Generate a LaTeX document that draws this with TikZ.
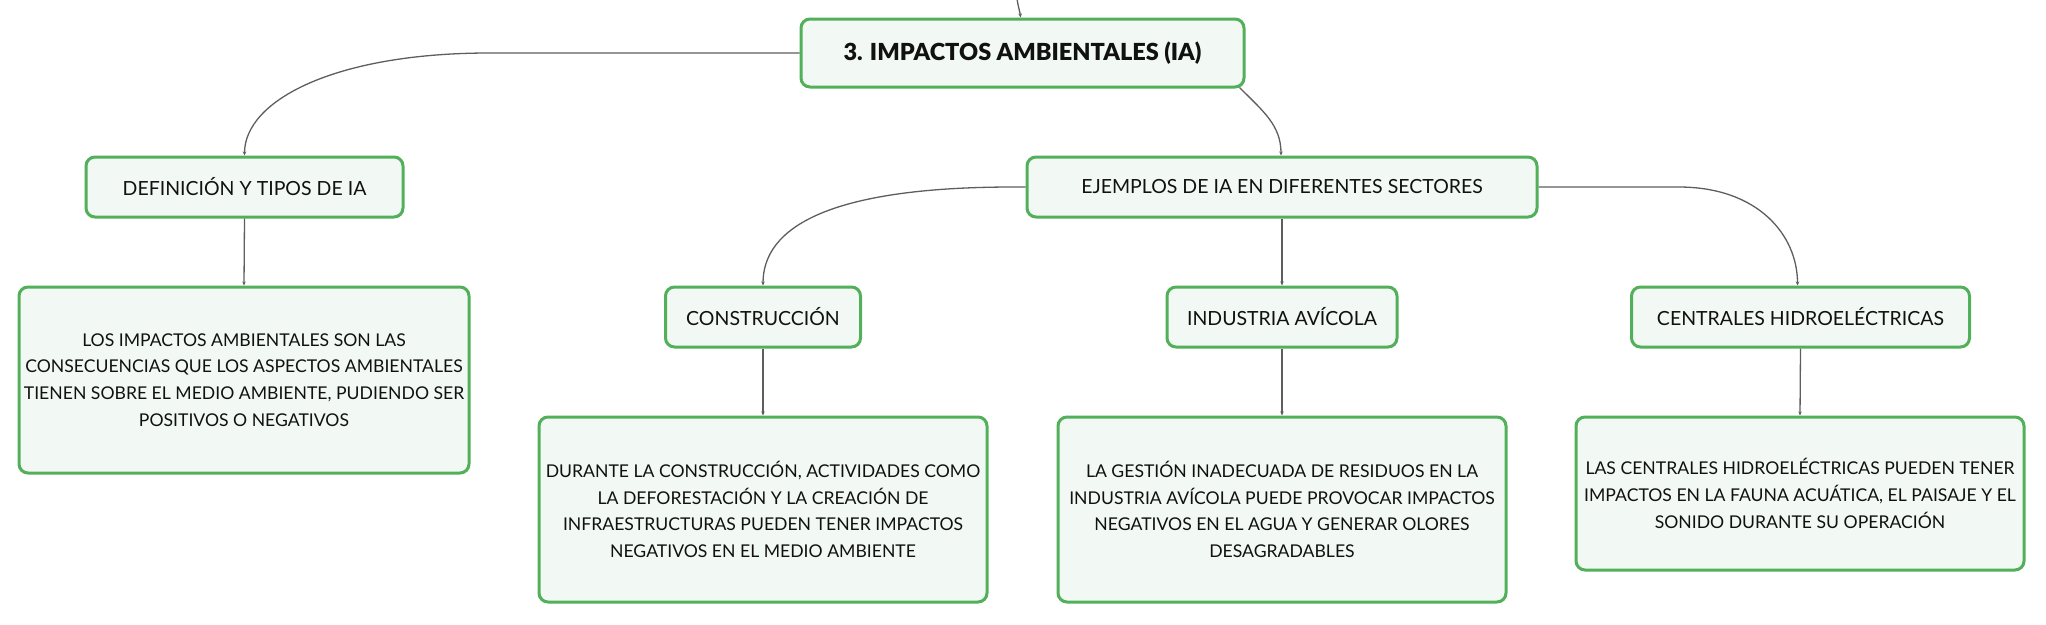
\documentclass[tikz,border=0pt]{standalone}
\usepackage{fontspec}
\setmainfont{Lato}
\newfontfamily\rootfont{Lato Black}
\usetikzlibrary{arrows.meta,calc}
\definecolor{boxgreen}{HTML}{52B05A}
\definecolor{boxfill}{HTML}{F2F9F4}
\definecolor{linegray}{HTML}{5E5E5E}
\definecolor{txt}{HTML}{111111}
\tikzset{
  box/.style={draw=boxgreen, line width=3pt, fill=boxfill, rounded corners=9pt,
    text=txt, align=center, inner sep=0pt, font=\fontsize{19.5}{26.7}\selectfont},
  bodybox/.style={box, font=\fontsize{17.6}{26.7}\selectfont},
  rootbox/.style={box, font=\fontsize{23.5}{30}\rootfont},
  conn/.style={draw=linegray, line width=1.3pt, -{Stealth[length=4pt,width=3.5pt]}}
}
\begin{document}
\begin{tikzpicture}[x=1pt,y=-1pt]
\useasboundingbox[fill=white] (0,0) rectangle (2046,624);
% nodes
\node[rootbox, minimum width=443pt, minimum height=68pt] (root) at (1022.5,53) {3. IMPACTOS AMBIENTALES (IA)};
\node[box, minimum width=317pt, minimum height=60pt] (def) at (244.5,187) {DEFINICIÓN Y TIPOS DE IA};
\node[box, minimum width=510pt, minimum height=60pt] (ej) at (1282,187) {EJEMPLOS DE IA EN DIFERENTES SECTORES};
\node[bodybox, minimum width=450pt, minimum height=186pt] (deftext) at (244,380) {LOS IMPACTOS AMBIENTALES SON LAS\\CONSECUENCIAS QUE LOS ASPECTOS AMBIENTALES\\TIENEN SOBRE EL MEDIO AMBIENTE, PUDIENDO SER\\POSITIVOS O NEGATIVOS};
\node[box, minimum width=195pt, minimum height=60pt] (cons) at (763,317) {CONSTRUCCIÓN};
\node[box, minimum width=230pt, minimum height=60pt] (ind) at (1282,317) {INDUSTRIA AVÍCOLA};
\node[box, minimum width=338pt, minimum height=60pt] (cent) at (1800.5,317) {CENTRALES HIDROELÉCTRICAS};
\node[bodybox, minimum width=448pt, minimum height=185pt] (constext) at (763,509.5) {DURANTE LA CONSTRUCCIÓN, ACTIVIDADES COMO\\LA DEFORESTACIÓN Y LA CREACIÓN DE\\INFRAESTRUCTURAS PUEDEN TENER IMPACTOS\\NEGATIVOS EN EL MEDIO AMBIENTE};
\node[bodybox, minimum width=448pt, minimum height=185pt] (indtext) at (1282,509.5) {LA GESTIÓN INADECUADA DE RESIDUOS EN LA\\INDUSTRIA AVÍCOLA PUEDE PROVOCAR IMPACTOS\\NEGATIVOS EN EL AGUA Y GENERAR OLORES\\DESAGRADABLES};
\node[bodybox, minimum width=448pt, minimum height=153pt] (centtext) at (1800,493.5) {LAS CENTRALES HIDROELÉCTRICAS PUEDEN TENER\\IMPACTOS EN LA FAUNA ACUÁTICA, EL PAISAJE Y EL\\SONIDO DURANTE SU OPERACIÓN};
% connectors
\coordinate (topin) at (1017,-1);
\draw[conn] (topin) .. controls (1018,6) and (1020,12) .. ($(root.north)+(-2,0)$);
\draw[conn] (root.west) -- ++(-310,0) .. controls +(-155,0) and +(0,-55) .. (def.north);
\draw[conn] ($(root.south east)+(-6,-1)$) .. controls +(24,24) and +(0,-30) .. ($(ej.north)+(-1,0)$);
\draw[conn] (ej.west) -- ++(-12,0) .. controls +(-185,0) and +(0,-58) .. (cons.north);
\draw[conn] (ej.east) -- ++(140,0) .. controls +(80,0) and +(0,-50) .. ($(cent.north)+(-3,0)$);
\draw[conn] (def.south) -- (deftext.north);
\draw[conn] (ej.south) -- (ind.north);
\draw[conn] (cons.south) -- (constext.north);
\draw[conn] (ind.south) -- (indtext.north);
\draw[conn] (cent.south) -- (centtext.north);
\end{tikzpicture}
\end{document}
